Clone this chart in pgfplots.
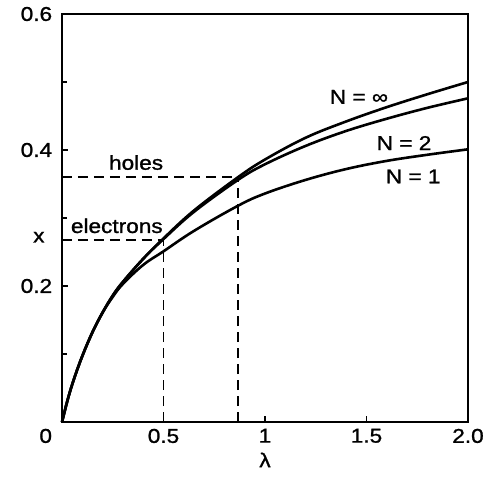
\documentclass[border=0pt]{standalone}
\usepackage{pgfplots}
\pgfplotsset{compat=1.18}
\usepackage{fontspec}
\setmainfont[FakeStretch=1.13,FakeBold=1.2]{Liberation Sans}
\begin{document}
\fontsize{20bp}{23bp}\selectfont
\begin{tikzpicture}
\useasboundingbox (-62bp,-58bp) rectangle (424bp,422bp);
\begin{axis}[
  at={(0,0)}, anchor=south west,
  scale only axis, width=406bp, height=408bp,
  xmin=0, xmax=2, ymin=0, ymax=0.6,
  axis line style={line width=2.2bp},
  tick align=inside, xtick pos=bottom, ytick pos=left,
  major tick length=6bp, minor tick length=5bp,
  every tick/.style={black, line width=1.4bp},
  xtick={0,0.5,1,1.5,2},
  xticklabels={\makebox[0pt][r]{0\hspace{10bp}},0.5,1,1.5,2.0},
  ytick={0,0.2,0.4,0.6},
  yticklabels={,0.2,0.4,0.6},
  minor ytick={0.1,0.3,0.5},
  /pgf/number format/assume math mode=true,
  yticklabel style={xshift=-3bp},
  xlabel={λ},
  xlabel style={at={(axis description cs:0.5,-0.093)}, anchor=center},
  ylabel={x},
  ylabel style={at={(axis description cs:-0.057,0.453)}, anchor=center, rotate=-90},
  clip=false,
]
% N = infinity
\addplot[black, line width=2.6bp, smooth, tension=0.6] coordinates {
 (0,0) (0.03,0.035) (0.06,0.064) (0.1,0.097) (0.15,0.132) (0.2,0.161)
 (0.25,0.186) (0.3,0.206) (0.4,0.240) (0.5,0.270) (0.65,0.311) (0.867,0.360)
 (1.0,0.386) (1.2,0.418) (1.4,0.442) (1.6,0.463) (1.8,0.482) (2.0,0.500)};
% N = 2
\addplot[black, line width=2.6bp, smooth, tension=0.6] coordinates {
 (0,0) (0.03,0.035) (0.06,0.064) (0.1,0.097) (0.15,0.132) (0.2,0.161)
 (0.25,0.186) (0.3,0.206) (0.4,0.240) (0.5,0.269) (0.65,0.309) (0.867,0.356)
 (1.0,0.379) (1.2,0.406) (1.4,0.428) (1.6,0.446) (1.8,0.462) (2.0,0.476)};
% N = 1
\addplot[black, line width=2.6bp, smooth, tension=0.6] coordinates {
 (0,0) (0.03,0.035) (0.06,0.064) (0.1,0.097) (0.15,0.132) (0.2,0.161)
 (0.25,0.184) (0.3,0.203) (0.4,0.231) (0.5,0.251) (0.65,0.281) (0.867,0.318)
 (1.0,0.336) (1.2,0.356) (1.4,0.372) (1.6,0.384) (1.8,0.393) (2.0,0.401)};
% dashed guides
\addplot[black, line width=1.8bp, dash pattern=on 10bp off 6bp] coordinates {(0,0.268) (0.5,0.268)};
\addplot[black, line width=1.8bp, dash pattern=on 10bp off 6bp] coordinates {(0.5,0) (0.5,0.268)};
\addplot[black, line width=1.8bp, dash pattern=on 10bp off 6bp] coordinates {(0,0.36) (0.867,0.36)};
\addplot[black, line width=1.8bp, dash pattern=on 10bp off 6bp] coordinates {(0.867,0) (0.867,0.36)};
\node[anchor=base] at (axis cs:0.365,0.371) {holes};
\node[anchor=base] at (axis cs:0.27,0.278) {electrons};
\node[anchor=base] at (axis cs:1.463,0.468) {N = ∞};
\node[anchor=base] at (axis cs:1.685,0.40) {N = 2};
\node[anchor=base] at (axis cs:1.73,0.351) {N = 1};
\end{axis}
\end{tikzpicture}
\end{document}
